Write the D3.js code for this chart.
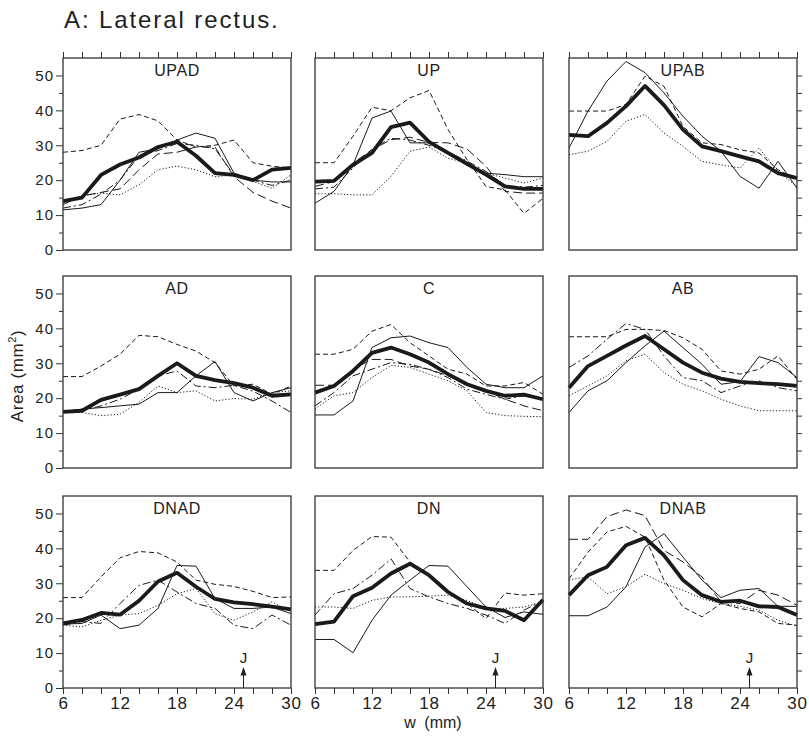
<!DOCTYPE html>
<html>
<head>
<meta charset="utf-8">
<script src="https://cdn.jsdelivr.net/npm/d3@7/dist/d3.min.js"></script>
<style>
  body { margin: 0; background: #fff; }
  text { font-family: "Liberation Sans", Arial, sans-serif; fill: #222; }
</style>
</head>
<body>
<div id="chart"></div>
<script>
var W = 809, H = 738;

// x positions (mm) shared by every curve
var wmm = [6, 8, 10, 12, 14, 16, 18, 20, 22, 24, 26, 28, 30];
var panelNames = ['UPAD', 'UP', 'UPAB', 'AD', 'C', 'AB', 'DNAD', 'DN', 'DNAB'];
var xTickLabels = [6, 12, 18, 24, 30];
var yTickLabels = [0, 10, 20, 30, 40, 50];
var jPos = 25;

// one entry per panel, in panelNames order (null = no such curve)
var meanArea = [
  [14, 15, 21.5, 24.5, 26.5, 29.5, 31, 27, 22, 21.5, 20, 23, 23.5],
  [19.6, 19.8, 24.4, 27.8, 35.2, 36.5, 31, 27.8, 24.7, 21.6, 18.2, 17.5, 17.5],
  [33, 32.6, 36.4, 41.2, 47, 41.5, 34.5, 29.7, 28.3, 26.8, 25.4, 22, 20.6],
  [16.1, 16.4, 19.5, 21, 22.6, 26.4, 30, 26.4, 25.2, 24.3, 23, 20.7, 21.1],
  [21.6, 23.5, 27.8, 33, 34.5, 32.6, 30.2, 26.9, 24, 22.1, 20.7, 21, 19.7],
  [23, 29.2, 32.1, 35.1, 37.8, 34, 30.2, 27.3, 25.6, 24.7, 24.3, 24, 23.5],
  [18.5, 19.5, 21.5, 21, 25, 30.5, 33, 29, 25.5, 24.5, 24, 23.3, 22.5],
  [18.3, 19, 26.3, 28.7, 32.8, 35.6, 32.3, 27.5, 24.2, 22.8, 22.1, 19.4, 25.3],
  [26.6, 32.3, 34.7, 40.9, 43, 38, 30.9, 26.6, 24.7, 25, 23.4, 23.2, 20.9]
];
var thinArea = [
  [11.5, 12, 13, 20, 28, 29, 31.5, 33.5, 32, 22, 20, 19.5, 19.5],
  [13.4, 16.8, 24.4, 37.8, 39.8, 30.7, 30.7, 27.8, 24.9, 22, 21.6, 21, 21],
  [29.2, 39.8, 48.4, 54, 50.8, 45, 38.3, 32.6, 28.3, 21.1, 17.7, 25.4, 17.7],
  [16.1, 16.9, 17.3, 17.8, 18.3, 21.6, 21.6, 26.4, 30.5, 21.6, 19.2, 21.6, 23],
  [15.2, 15.2, 19.2, 34.5, 37.3, 37.8, 35.9, 34.5, 28.8, 24, 23, 23, 26.4],
  [15.9, 22.1, 25, 30.2, 35, 39.2, 34.5, 29.7, 24, 24.7, 31.9, 30.2, 25.9],
  [18.3, 18.5, 20.9, 17, 18, 22.8, 35.1, 34.9, 25.6, 22.8, 22.8, 23.2, 21.3],
  [13.9, 13.9, 10.1, 19.4, 26.6, 30.9, 35.1, 34.9, 29, 23.2, 20.2, 21.8, 21.1],
  [20.7, 20.7, 23.2, 29, 40.4, 44.2, 37.5, 30.9, 25.9, 28, 28.5, 23.4, 23.4]
];
var dashArea = [
  [28, 28.5, 30, 37.5, 38.8, 37, 31.5, 29.5, 30, 31.5, 25, 24, 23.5],
  [25, 25, 32.6, 40.9, 39.9, 43.6, 45.7, 34.5, 25.9, 18.2, 17.2, 10.5, 14.8],
  [39.8, 39.8, 39.8, 41.7, 49.8, 46.9, 35.4, 30.7, 30.2, 28.7, 27.8, 23, 20.1],
  [26.2, 26.2, 29.2, 32.6, 38, 37.6, 35.4, 33.5, 30.2, 23.5, 24, 21.1, 23.5],
  [32.6, 32.6, 34, 39.2, 41.1, 35.9, 32.1, 28.3, 26.9, 23.5, 23.5, 24.5, 21.1],
  [37.6, 37.6, 37.6, 39.7, 39.7, 39.4, 37.3, 34, 27.8, 26.9, 28.3, 32.1, 25.4],
  [25.9, 25.9, 31.8, 37.3, 39.1, 38.7, 36.1, 30.9, 29.7, 29.1, 27.7, 25.9, 26.1],
  [33.7, 33.7, 39.4, 43.4, 43.2, 36.1, 32.3, 27.5, 24.2, 19.9, 27.2, 26.6, 27],
  [31.3, 38.9, 44.7, 46.3, 43.2, 30.9, 23.2, 20.4, 24.2, 22.8, 21.8, 18.5, 18]
];
var longDashArea = [
  [13, 15.5, 16.5, 17.5, 23, 27.5, 28, 29.5, 29.5, 21, 16.5, 14, 12],
  [18.2, 19.6, 24.9, 28.7, 31.6, 32.3, 30.8, 30.7, 28.9, 24, 16.8, 16.3, 16.3],
  null,
  null,
  [23.7, 23.7, 28.3, 31.1, 31.1, 29.2, 28.3, 26.4, 24, 22.1, 19.7, 17.8, 16.4],
  null,
  null,
  null,
  [42.6, 42.6, 49.1, 51, 49.4, 39.4, 36.1, 31.8, 24.7, 24.2, 28, 26.6, 23.7]
];
var dashDotArea = [
  [12, 13, 16, 20, 27, 28.5, 30.5, 30, 29, 21.5, 20, 18.5, 20],
  [17.5, 18, 23.5, 29, 32, 31.5, 30, 28, 25.5, 22.5, 18.5, 18, 18.5],
  null,
  [16, 16.4, 17.8, 19.7, 22.6, 26.4, 27.8, 23.5, 23, 23.7, 22, 19.2, 15.9],
  [17.8, 21.6, 26.4, 28.3, 30.2, 29.7, 28.3, 25.9, 22.6, 21.1, 19.7, 20.7, 19.7],
  [28.8, 32.1, 36.9, 41.4, 39.7, 32.1, 25.9, 25, 21.6, 23.5, 25, 23, 22.1],
  [18, 19, 18.5, 24.2, 29.4, 30.9, 27.5, 24.2, 22.8, 18, 17, 20.9, 18],
  [20.9, 27, 28.5, 32.3, 37, 28.5, 26.1, 24.2, 22.8, 20.9, 18.5, 22.3, 25.1],
  null
];
var dotArea = [
  [13.5, 15.5, 16.3, 15.8, 18.7, 23, 24, 23, 21, 21.5, 19.6, 17.7, 21.5],
  [16.1, 16.1, 15.8, 15.8, 21.1, 28.3, 29.5, 26.3, 24.9, 22, 20.6, 19.2, 20.6],
  [27.3, 28.3, 31.1, 36.9, 38.8, 33.5, 29.7, 25.4, 24.4, 23.5, 29.2, 22.5, 18.2],
  [16.4, 15.9, 15, 15.4, 18.8, 23.5, 21.6, 22.1, 19.2, 19.9, 19.7, 21.6, 22.1],
  [16.9, 20.7, 21.6, 25.9, 29.4, 28.8, 26.9, 25, 22.1, 15.9, 15, 14.8, 14.7],
  [20.7, 23.5, 26.4, 30.7, 32.6, 27.3, 24, 22.1, 19.7, 17.8, 16.4, 16.4, 16.4],
  [18, 17.5, 19.4, 20.9, 21.3, 23.7, 27, 28.5, 21.3, 19.4, 21.8, 24.7, 21.8],
  [23.2, 23.2, 22.8, 25.1, 26.1, 26.1, 26.3, 26.6, 25.1, 22.8, 22.8, 23.2, 24.7],
  [31, 31.8, 27, 29, 32.6, 29.9, 28, 25.6, 24.2, 23.4, 22.3, 19.4, 17.7]
];

// line looks, drawn back to front
var styles = [
  { data: dotArea, width: 1, dash: '1.2,2' },
  { data: dashDotArea, width: 1, dash: '8,3,2,3' },
  { data: longDashArea, width: 1, dash: '9,4' },
  { data: dashArea, width: 1, dash: '5,3' },
  { data: thinArea, width: 1, dash: null },
  { data: meanArea, width: 3.8, dash: null }
];

var colX = [63, 315, 569];
var rowY = [58, 276, 496];
var pw = 228, ph = 192;

var svg = d3.select('#chart').append('svg').attr('width', W).attr('height', H);

svg.append('text')
  .attr('x', 64).attr('y', 28)
  .style('font-size', '24px')
  .style('letter-spacing', '1.9px')
  .text('A: Lateral rectus.');

var x = d3.scaleLinear().domain([6, 30]).range([0, pw]);
var y = d3.scaleLinear().domain([0, 55]).range([ph, 0]);

var line = d3.line()
  .x(function (d, i) { return x(wmm[i]); })
  .y(function (d) { return y(d); });

panelNames.forEach(function (name, p) {
  var col = p % 3, row = Math.floor(p / 3);
  var g = svg.append('g')
    .attr('transform', 'translate(' + colX[col] + ',' + rowY[row] + ')');

  styles.forEach(function (s) {
    var vals = s.data[p];
    if (!vals) return;
    g.append('path')
      .attr('d', line(vals))
      .attr('fill', 'none')
      .attr('stroke', '#1a1a1a')
      .attr('stroke-width', s.width)
      .attr('stroke-linejoin', 'round')
      .attr('stroke-dasharray', s.dash);
  });

  g.append('rect')
    .attr('width', pw).attr('height', ph)
    .attr('fill', 'none')
    .attr('stroke', '#333')
    .attr('stroke-width', 1.3);

  g.append('text')
    .attr('x', pw / 2).attr('y', 18)
    .attr('text-anchor', 'middle')
    .style('font-size', '16px')
    .style('letter-spacing', '0.6px')
    .text(name);

  // y ticks on the left column
  if (col === 0) {
    var ay = g.append('g')
      .call(d3.axisLeft(y)
        .tickValues(d3.range(0, 55, 5))
        .tickSize(7)
        .tickSizeOuter(0)
        .tickFormat(function (d) { return yTickLabels.indexOf(d) >= 0 ? d : ''; }));
    ay.select('.domain').remove();
    ay.selectAll('.tick line')
      .attr('stroke', '#333')
      .attr('x2', function (d) { return d % 10 === 0 ? -7 : -4; });
    ay.selectAll('.tick text')
      .attr('x', -9)
      .style('font-size', '15px')
      .style('letter-spacing', '1px')
      .style('font-family', '"Liberation Sans", Arial, sans-serif')
      .attr('fill', '#222');
  }
  // y ticks on the right column
  if (col === 2) {
    var ar = g.append('g')
      .attr('transform', 'translate(' + pw + ',0)')
      .call(d3.axisRight(y).tickValues(d3.range(5, 55, 5)).tickSize(5).tickSizeOuter(0).tickFormat(''));
    ar.select('.domain').remove();
    ar.selectAll('.tick line').attr('stroke', '#333');
  }
  // x ticks on top row
  if (row === 0) {
    var at = g.append('g')
      .call(d3.axisTop(x).tickValues(wmm).tickSize(6).tickSizeOuter(0).tickFormat(''));
    at.select('.domain').remove();
    at.selectAll('.tick line').attr('stroke', '#333');
  }
  // x ticks and labels on bottom row
  if (row === 2) {
    var ab = g.append('g')
      .attr('transform', 'translate(0,' + ph + ')')
      .call(d3.axisBottom(x)
        .tickValues(wmm)
        .tickSize(6)
        .tickSizeOuter(0)
        .tickFormat(function (d) { return xTickLabels.indexOf(d) >= 0 ? d : ''; }));
    ab.select('.domain').remove();
    ab.selectAll('.tick line').attr('stroke', '#333');
    ab.selectAll('.tick text')
      .attr('y', 9)
      .style('font-size', '17px')
      .style('letter-spacing', '0.8px')
      .style('font-family', '"Liberation Sans", Arial, sans-serif')
      .attr('fill', '#222');

    // J marker
    g.append('line')
      .attr('x1', x(jPos)).attr('x2', x(jPos))
      .attr('y1', y(0)).attr('y2', y(4))
      .attr('stroke', '#222').attr('stroke-width', 1);
    g.append('path')
      .attr('d', 'M' + (x(jPos) - 3) + ',' + y(3.6) + 'L' + x(jPos) + ',' + y(6) + 'L' + (x(jPos) + 3) + ',' + y(3.6) + 'Z')
      .attr('fill', '#222');
    g.append('text')
      .attr('x', x(jPos)).attr('y', y(7.2))
      .attr('text-anchor', 'middle')
      .style('font-size', '15px')
      .text('J');
  }
});

svg.append('text')
  .attr('transform', 'translate(23,376) rotate(-90)')
  .attr('text-anchor', 'middle')
  .style('font-size', '17px')
  .style('letter-spacing', '0.6px')
  .html('Area (mm<tspan dy="-7" font-size="11px">2</tspan><tspan dy="7">)</tspan>');

svg.append('text')
  .attr('x', 433).attr('y', 728)
  .attr('text-anchor', 'middle')
  .style('font-size', '16px')
  .style('word-spacing', '4px')
  .text('w (mm)');
</script>
</body>
</html>
